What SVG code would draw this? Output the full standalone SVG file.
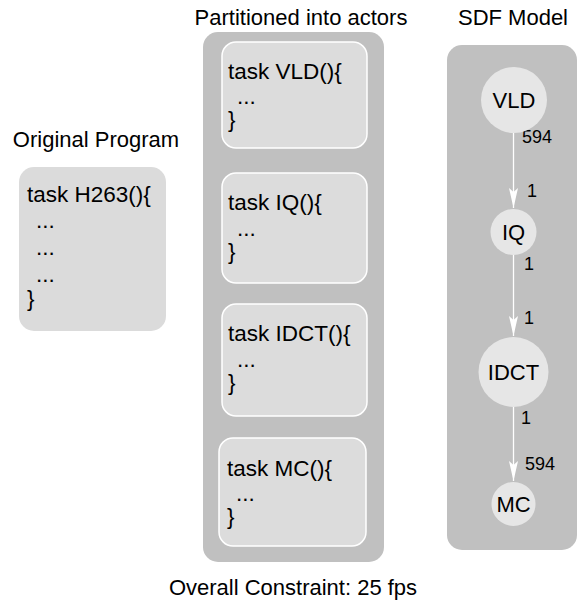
<svg xmlns="http://www.w3.org/2000/svg" width="579" height="604" viewBox="0 0 579 604">
  <style>
    text { font-family: "Liberation Sans", Arial, sans-serif; fill: #000; }
    .title { font-size: 22px; text-anchor: middle; }
    .code { font-size: 22.5px; }
    .panel { fill: #c0c0c0; }
    .prog { fill: #dbdbdb; }
    .actor { fill: #dcdcdc; stroke: #ffffff; stroke-width: 1.5; }
    .node circle { fill: #e6e6e6; }
    .node text { font-size: 22px; text-anchor: middle; }
    .edge { stroke: #ffffff; stroke-width: 1.3; fill: none; marker-end: url(#arrow); }
    .rate { font-size: 18px; }
  </style>
  <defs>
    <marker id="arrow" viewBox="-9 0 21 10" refX="12" refY="5" markerWidth="21" markerHeight="10" markerUnits="userSpaceOnUse" orient="auto">
      <path d="M12,5 L-8,0.5 L-4,5 L-8,9.5 Z" fill="#ffffff"/>
    </marker>
  </defs>

  <rect width="579" height="604" fill="#ffffff"/>

  <!-- titles -->
  <text class="title" x="96" y="147">Original Program</text>
  <text class="title" x="301" y="25">Partitioned into actors</text>
  <text class="title" x="513" y="25">SDF Model</text>
  <text class="title" x="293" y="595">Overall Constraint: 25 fps</text>

  <!-- original program -->
  <g id="program">
    <rect class="prog" x="19" y="167" width="147" height="164" rx="15"/>
    <text class="code" x="27" y="202">task H263(){</text>
    <text class="code" x="36" y="228">...</text>
    <text class="code" x="36" y="255">...</text>
    <text class="code" x="36" y="282">...</text>
    <text class="code" x="27" y="306">}</text>
  </g>

  <!-- actor partition -->
  <rect class="panel" x="203" y="32" width="181" height="530" rx="15"/>
  <g id="actor-vld">
    <rect class="actor" x="222" y="42" width="145" height="106" rx="14"/>
    <text class="code" x="228" y="79">task VLD(){</text>
    <text class="code" x="237" y="104">...</text>
    <text class="code" x="228" y="127">}</text>
  </g>
  <g id="actor-iq">
    <rect class="actor" x="222" y="173" width="145" height="110" rx="14"/>
    <text class="code" x="228" y="210">task IQ(){</text>
    <text class="code" x="237" y="236">...</text>
    <text class="code" x="228" y="259">}</text>
  </g>
  <g id="actor-idct">
    <rect class="actor" x="222" y="304" width="145" height="112" rx="14"/>
    <text class="code" x="228" y="341">task IDCT(){</text>
    <text class="code" x="237" y="367">...</text>
    <text class="code" x="228" y="390">}</text>
  </g>
  <g id="actor-mc">
    <rect class="actor" x="219" y="438" width="147" height="108" rx="14"/>
    <text class="code" x="227" y="476">task MC(){</text>
    <text class="code" x="236" y="501">...</text>
    <text class="code" x="227" y="524">}</text>
  </g>

  <!-- SDF model -->
  <rect class="panel" x="447" y="45" width="130" height="505" rx="15"/>

  <g id="connectors">
    <line class="edge" x1="513.5" y1="133" x2="513.5" y2="208"/>
    <line class="edge" x1="513.5" y1="255" x2="513.5" y2="336"/>
    <line class="edge" x1="513.5" y1="407" x2="513.5" y2="481"/>
    <text class="rate" x="522" y="143">594</text>
    <text class="rate" x="527" y="197">1</text>
    <text class="rate" x="524" y="270">1</text>
    <text class="rate" x="524" y="324">1</text>
    <text class="rate" x="521" y="424">1</text>
    <text class="rate" x="525" y="470">594</text>
  </g>

  <g id="node-vld" class="node">
    <circle cx="514" cy="100" r="33"/>
    <text x="514" y="108">VLD</text>
  </g>
  <g id="node-iq" class="node">
    <circle cx="513.5" cy="232" r="23"/>
    <text x="513.5" y="240">IQ</text>
  </g>
  <g id="node-idct" class="node">
    <circle cx="513.5" cy="372" r="35"/>
    <text x="513.5" y="380">IDCT</text>
  </g>
  <g id="node-mc" class="node">
    <circle cx="513.5" cy="504" r="22"/>
    <text x="513.5" y="512">MC</text>
  </g>
</svg>
